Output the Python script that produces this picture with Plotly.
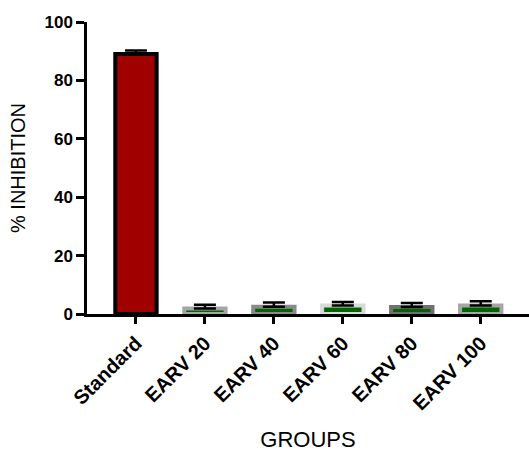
import plotly.graph_objects as go

categories = ["Standard", "EARV 20", "EARV 40", "EARV 60", "EARV 80", "EARV 100"]
inhibition = [89.0, 1.9, 2.5, 2.9, 2.4, 2.9]
error_up = [1.2, 1.3, 1.4, 1.2, 1.4, 1.5]
fill_colors = ["#a00000", "#006400", "#006400", "#006400", "#006400", "#006400"]
border_colors = ["#000000", "#a6a6a6", "#8a8a8a", "#d9d9d9", "#707070", "#a6a6a6"]
y_ticks = [0, 20, 40, 60, 80, 100]

fig = go.Figure()
fig.add_trace(go.Bar(
    x=categories,
    y=inhibition,
    width=0.6,
    marker=dict(color=fill_colors, line=dict(color=border_colors, width=4)),
    error_y=dict(type="data", array=error_up, arrayminus=[0] * len(error_up),
                 symmetric=False, color="#000000", thickness=2.5, width=11),
))

font_family = "Liberation Sans, Arial, sans-serif"
fig.update_layout(
    width=529, height=452,
    margin=dict(l=87, r=0, t=22, b=138),
    plot_bgcolor="white", paper_bgcolor="white",
    showlegend=False,
    font=dict(family=font_family, color="#000000"),
)
fig.update_xaxes(
    range=[-0.71, 5.7],
    automargin=False,
    showline=True, linecolor="#000000", linewidth=2.5,
    ticks="outside", ticklen=7, tickwidth=2.5, tickcolor="#000000",
    tickangle=-45,
    tickfont=dict(family=font_family, size=20, weight="bold"),
    title=dict(text="GROUPS", font=dict(family=font_family, size=22), standoff=25),
    showgrid=False, zeroline=False,
)
fig.update_yaxes(
    range=[0, 100],
    automargin=False,
    tickvals=y_ticks,
    showline=True, linecolor="#000000", linewidth=2.5,
    ticks="outside", ticklen=8, tickwidth=2.5, tickcolor="#000000",
    tickfont=dict(family=font_family, size=17, weight="bold"),
    title=dict(text="% INHIBITION", font=dict(family=font_family, size=20), standoff=14),
    showgrid=False, zeroline=False,
)

fig.write_html("out.html", config={"displayModeBar": False},
               post_script="document.body.style.margin='0';")
